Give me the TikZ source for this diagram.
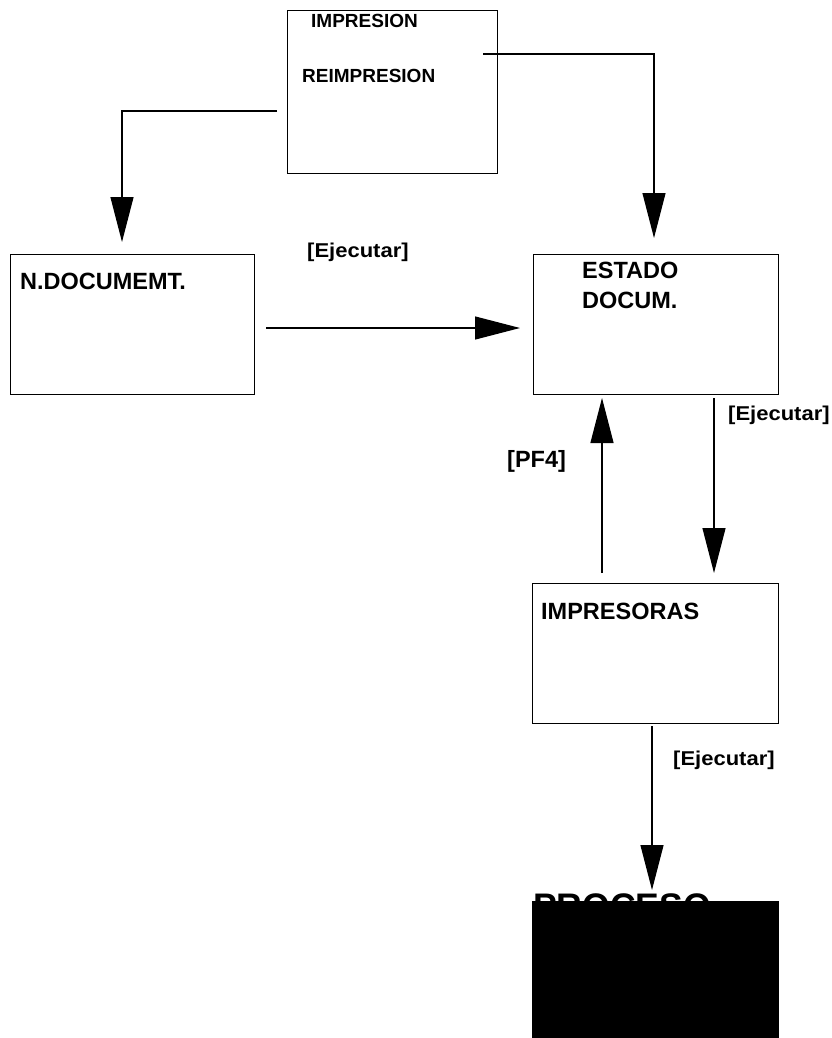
\documentclass[tikz,border=0pt]{standalone}
\usepackage{fontspec}
\setmainfont{Liberation Sans}
\usetikzlibrary{arrows.meta}
\begin{document}
\begin{tikzpicture}[x=1pt,y=-1pt,
  screen/.style={draw=black,line width=1.2pt,fill=white,inner sep=0pt,anchor=north west},
  title/.style={anchor=base west,inner sep=0pt,font=\bfseries\fontsize{23.5}{26}\selectfont},
  small/.style={anchor=base west,inner sep=0pt,font=\bfseries\fontsize{19}{22}\selectfont},
  keylabel/.style={anchor=base west,inner sep=0pt,font=\bfseries\fontsize{20}{22}\selectfont},
  flow/.style={line width=1.2pt,-{Triangle[length=45pt,width=23pt]}}]
\useasboundingbox (0,0) rectangle (831,1038);
\fill[white] (0,0) rectangle (831,1038);

% screens
\node[screen,minimum width=210pt,minimum height=163pt] (menu) at (287,10) {};
\node[screen,minimum width=244pt,minimum height=140pt] (ndoc) at (10,254) {};
\node[screen,minimum width=245pt,minimum height=140pt] (estado) at (533,254) {};
\node[screen,minimum width=246pt,minimum height=140pt] (impr) at (532,583) {};

% screen titles
\node[small] (tImp) at (311,28) {IMPRESION};
\node[small] (tReimp) at (302,83) {REIMPRESION};
\node[title] (tNdoc) at (20,289) {N.DOCUMEMT.};
\node[title] (tEst1) at (582,278) {ESTADO};
\node[title] (tEst2) at (582,308) {DOCUM.};
\node[title] (tImpr) at (541,619) {IMPRESORAS};

% final process block
\node[anchor=base west,inner sep=0pt,font=\bfseries\fontsize{35.5}{38}\selectfont] (tProc) at (533,918) {PROCESO};
\node[fill=black,inner sep=0pt,anchor=north west,minimum width=247pt,minimum height=137pt] (proc) at (532,901) {};

% connector ends
\coordinate (mL) at (277,111);
\coordinate (mLc) at (122,111);
\coordinate (nTop) at (122,242);
\coordinate (mR) at (483,54);
\coordinate (mRc) at (654,54);
\coordinate (eTop) at (654,238);
\coordinate (nR) at (266,328);
\coordinate (eL) at (520,328);
\coordinate (eBotA) at (602,398);
\coordinate (iTopA) at (602,573);
\coordinate (eBotB) at (714,398);
\coordinate (iTopB) at (714,573);
\coordinate (iBot) at (652,726);
\coordinate (pTop) at (652,890);

% flows
\draw[flow] (mL) -- (mLc) -- (nTop);
\draw[flow] (mR) -- (mRc) -- (eTop);
\draw[flow] (nR) -- (eL);
\draw[flow] (iTopA) -- (eBotA);
\draw[flow] (eBotB) -- (iTopB);
\draw[flow] (iBot) -- (pTop);

% key labels
\node[keylabel] (k1) at (307,257) {\scalebox{1.1}[1]{[Ejecutar]}};
\node[keylabel] (k2) at (728,420) {\scalebox{1.1}[1]{[Ejecutar]}};
\node[keylabel] (k3) at (673,765) {\scalebox{1.1}[1]{[Ejecutar]}};
\node[title] (k4) at (507,467) {[PF4]};
\end{tikzpicture}
\end{document}
